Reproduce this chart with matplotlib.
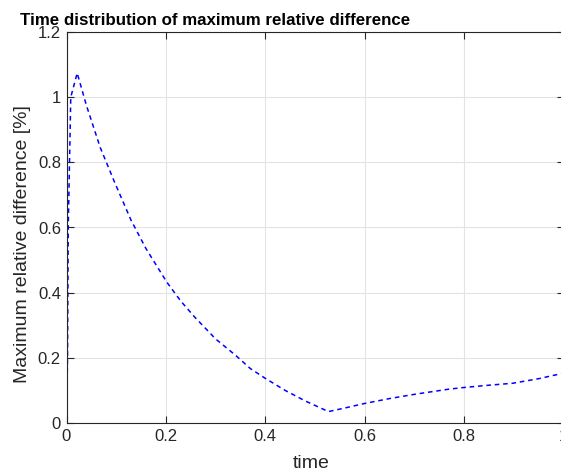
import numpy as np
import matplotlib
matplotlib.use("Agg")
import matplotlib.pyplot as plt

# values
time = [0, 0.002, 0.0035, 0.0086, 0.0215, 0.04, 0.068, 0.097, 0.13, 0.16,
        0.202, 0.23, 0.258, 0.3, 0.34, 0.37, 0.40, 0.44, 0.48, 0.527,
        0.56, 0.60, 0.65, 0.70, 0.77, 0.80, 0.85, 0.898, 0.95, 1.0]
max_rel_diff = [0, 0.2, 0.6, 1.0, 1.074, 0.975, 0.845, 0.738, 0.622, 0.535,
                0.432, 0.374, 0.325, 0.258, 0.208, 0.167, 0.137, 0.10, 0.068, 0.035,
                0.046, 0.06, 0.075, 0.088, 0.104, 0.109, 0.116, 0.122, 0.136, 0.153]

xticks = [0, 0.2, 0.4, 0.6, 0.8, 1]
xticklabels = ["0", "0.2", "0.4", "0.6", "0.8", "1"]
yticks = [0, 0.2, 0.4, 0.6, 0.8, 1, 1.2]
yticklabels = ["0", "0.2", "0.4", "0.6", "0.8", "1", "1.2"]

plt.rcParams['font.family'] = ['Liberation Sans', 'DejaVu Sans']

W, H = 561, 473
fig = plt.figure(figsize=(W / 100, H / 100), dpi=100)
ax = fig.add_axes([66.5 / W, 50 / H, (563.5 - 66.5) / W, (423 - 32) / H])

ax.plot(time, max_rel_diff, color="blue", linestyle=(0, (3, 2.5)), linewidth=1.1)

ax.set_xlim(0, 1)
ax.set_ylim(0, 1.2)
ax.set_xticks(xticks)
ax.set_xticklabels(xticklabels)
ax.set_yticks(yticks)
ax.set_yticklabels(yticklabels)

ax.grid(True, color="#e3e3e3", linewidth=0.8)
ax.set_axisbelow(True)
for s in ax.spines.values():
    s.set_color("#262626")
    s.set_linewidth(0.8)
ax.tick_params(direction="in", length=5, width=0.8, colors="#262626",
               labelsize=12, top=True, right=True, pad=4)

ax.set_xlabel("time", fontsize=14, color="#262626")
ax.xaxis.set_label_coords(0.492, -0.083, transform=ax.transAxes)
ax.xaxis.label.set_va("top")
ax.set_ylabel("Maximum relative difference [%]", fontsize=14, color="#262626", labelpad=5)
ax.yaxis.label.set_y(0.458)
fig.text(20 / W, 1 - 25 / H, "Time distribution of maximum relative difference",
         fontsize=12.2, fontweight="bold", ha="left", va="baseline", color="black")

fig.savefig("out.png", dpi=100)
